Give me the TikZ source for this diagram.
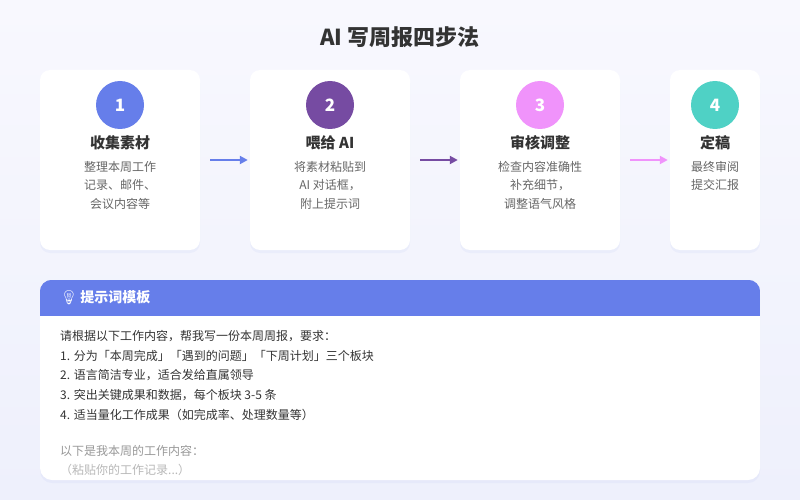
\documentclass[tikz,border=0pt]{standalone}
\usepackage{fontspec}
\setmainfont{Noto Sans CJK SC}
\newfontfamily\emojifont{Noto Emoji}
\usepackage{tikz}
\usetikzlibrary{arrows.meta, positioning, shadows, calc}
\definecolor{stepBlue}{HTML}{667EEA}
\definecolor{stepPurple}{HTML}{764BA2}
\definecolor{stepPink}{HTML}{F093FB}
\definecolor{stepTeal}{HTML}{4FD1C5}
\definecolor{inkDark}{HTML}{333333}
\definecolor{inkGray}{HTML}{666666}
\definecolor{inkLight}{HTML}{999999}
\definecolor{bgTop}{HTML}{F8F8FE}
\definecolor{bgBot}{HTML}{EEF0FC}

\begin{document}
\begin{tikzpicture}[x=1pt, y=-1pt, >=Stealth,
  card/.style={fill=white, rounded corners=10pt, minimum height=180pt, inner sep=0,
               drop shadow={opacity=0.06, shadow xshift=0pt, shadow yshift=-3pt, fill=stepBlue}},
  num/.style={circle, minimum size=48pt, inner sep=0, text=white,
              font=\fontsize{17}{20}\selectfont\bfseries},
  ttl/.style={text=inkDark, font=\fontsize{15}{18}\selectfont\bfseries},
  desc/.style={text=inkGray, align=center, anchor=north, inner sep=0,
               font=\fontsize{12}{18.5}\selectfont},
  flow/.style={line width=2pt, -{Triangle[length=8pt,width=8pt]},
               shorten <=10pt, shorten >=2pt},
  body/.style={anchor=west, inner sep=0, text=inkDark, font=\fontsize{12}{15}\selectfont},
  note/.style={anchor=west, inner sep=0, text=inkLight, font=\fontsize{12}{15}\selectfont}]

  \useasboundingbox (0,0) rectangle (800,500);
  \shade[top color=bgTop, bottom color=bgBot] (0,0) rectangle (800,500);

  \node[text=inkDark, font=\fontsize{22}{26}\selectfont\bfseries] (title) at (400,37) {AI 写周报四步法};

  % step cards
  \node[card, minimum width=160pt] (c1) at (120,160) {};
  \node[card, minimum width=160pt] (c2) at (330,160) {};
  \node[card, minimum width=160pt] (c3) at (540,160) {};
  \node[card, minimum width=90pt]  (c4) at (715,160) {};

  \node[num, fill=stepBlue]   (n1) at (120,105) {1};
  \node[num, fill=stepPurple] (n2) at (330,105) {2};
  \node[num, fill=stepPink]   (n3) at (540,105) {3};
  \node[num, fill=stepTeal]   (n4) at (715,105) {4};

  \node[ttl] (t1) at (120,143) {收集素材};
  \node[ttl] (t2) at (330,143) {喂给 AI};
  \node[ttl] (t3) at (540,143) {审核调整};
  \node[ttl] (t4) at (715,143) {定稿};

  \node[desc] (d1) at (120,161) {整理本周工作\\记录、邮件、\\会议内容等};
  \node[desc] (d2) at (330,161) {将素材粘贴到\\AI 对话框，\\附上提示词};
  \node[desc] (d3) at (540,161) {检查内容准确性\\补充细节，\\调整语气风格};
  \node[desc] (d4) at (715,161) {最终审阅\\提交汇报};

  \draw[flow, stepBlue]   (c1) -- (c2);
  \draw[flow, stepPurple] (c2) -- (c3);
  \draw[flow, stepPink]   (c3) -- (c4);

  % prompt template
  \node[card, minimum width=720pt, minimum height=200pt, rounded corners=12pt] (tpl) at (400,380) {};
  \begin{scope}
    \clip[rounded corners=12pt] (tpl.north west) rectangle (tpl.south east);
    \fill[stepBlue] (tpl.north west) rectangle ($(tpl.north east)+(0,36)$);
  \end{scope}
  \node[anchor=west, inner sep=0, text=white, font=\fontsize{14}{16}\selectfont\bfseries]
    (hdr) at (60,298) {{\emojifont 💡}\,提示词模板};

  \node[body] (p1) at (60,336) {请根据以下工作内容，帮我写一份本周周报，要求：};
  \node[body] (p2) at (60,355.5) {1. 分为「本周完成」「遇到的问题」「下周计划」三个板块};
  \node[body] (p3) at (60,375) {2. 语言简洁专业，适合发给直属领导};
  \node[body] (p4) at (60,395) {3. 突出关键成果和数据，每个板块 3-5 条};
  \node[body] (p5) at (60,415) {4. 适当量化工作成果（如完成率、处理数量等）};
  \node[note] (p6) at (60,451) {以下是我本周的工作内容：};
  \node[note, text=inkLight!70] (p7) at (60,470) {（粘贴你的工作记录...）};

\end{tikzpicture}
\end{document}
